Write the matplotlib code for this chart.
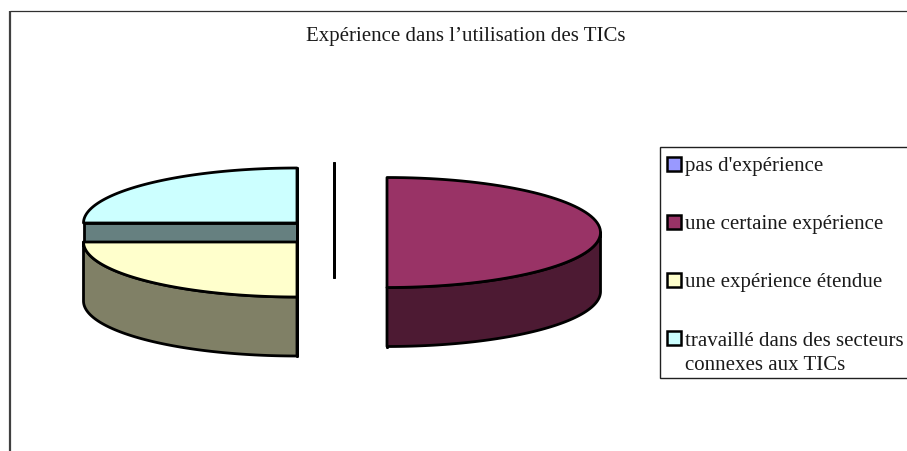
import numpy as np
import matplotlib
matplotlib.use('Agg')
import matplotlib.pyplot as plt
from matplotlib.patches import Polygon, Rectangle

title = 'Expérience dans l\u2019utilisation des TICs'
labels = ["pas d'expérience", 'une certaine expérience', 'une expérience étendue',
          'travaillé dans des secteurs\nconnexes aux TICs']
values = [0, 50, 25, 25]
colors = ['#9999FF', '#993366', '#FFFFCC', '#CCFFFF']
dark_colors = ['#4D4D80', '#4D1A33', '#808066', '#668080']

# pixel layout of the exploded slices
centers = [(334, 218), (387, 232.5), (297, 242), (297, 223)]
rx, ry = 213.5, 55
depth = 59
edge_w = 2.0


def arc(cx, cy, t0, t1, n=80):
    # angles clockwise from 12 o'clock
    t = np.radians(np.linspace(t0, t1, n))
    return np.column_stack([cx + rx * np.sin(t), cy - ry * np.cos(t)])


def draw_slice(ax, t0, t1, center, color, dark):
    cx, cy = center
    shift = np.array([0, depth])
    # flat cut faces first
    for t in (t0, t1):
        p = arc(cx, cy, t, t, 1)[0]
        face = np.array([[cx, cy], p, p + shift, [cx, cy + depth]])
        ax.add_patch(Polygon(face, fc=dark, ec='black', lw=edge_w, joinstyle='round'))
    # rim, only the part turned towards the viewer
    lo, hi = max(t0, 90), min(t1, 270)
    if hi > lo:
        rim = arc(cx, cy, lo, hi)
        ax.add_patch(Polygon(np.vstack([rim, (rim + shift)[::-1]]), fc=dark, ec='black',
                             lw=edge_w, joinstyle='round'))
    top = np.vstack([[cx, cy], arc(cx, cy, t0, t1)])
    ax.add_patch(Polygon(top, fc=color, ec='black', lw=edge_w, joinstyle='round'))


fig = plt.figure(figsize=(9.07, 4.51), dpi=100)
ax = fig.add_axes([0, 0, 1, 1])
ax.set_xlim(0, 907)
ax.set_ylim(451, 0)
ax.axis('off')

# chart frame, cut off by the screenshot on the right and at the bottom
ax.plot([10, 10], [10.5, 451], color='#404040', lw=1.6, solid_capstyle='butt')
ax.plot([10, 907], [11, 11], color='#303030', lw=0.9, solid_capstyle='butt')

ax.text(465.5, 37, title, ha='center', va='center', family='Liberation Serif', fontsize=15, color='#1a1a1a')

angles = np.cumsum([0] + values) / float(sum(values)) * 360
# back slices first so that the front ones overlap them
for i in (0, 1, 3, 2):
    draw_slice(ax, angles[i], angles[i + 1], centers[i], colors[i], dark_colors[i])

ax.add_patch(Rectangle((660, 146.5), 260, 231.5, fc='white', ec='#202020', lw=1.0))
legend_y = [164, 222, 280, 338]
for lab, c, y in zip(labels, colors, legend_y):
    ax.add_patch(Rectangle((667, y - 7.5), 14, 14, fc=c, ec='black', lw=1.8))
    first, *rest = lab.split('\n')
    ax.text(685, y + 3, first, va='center', family='Liberation Serif', fontsize=15, color='#1a1a1a')
    for line in rest:
        ax.text(685, y + 28, line, va='center', family='Liberation Serif', fontsize=15, color='#1a1a1a')

fig.savefig('out.png', dpi=100)
